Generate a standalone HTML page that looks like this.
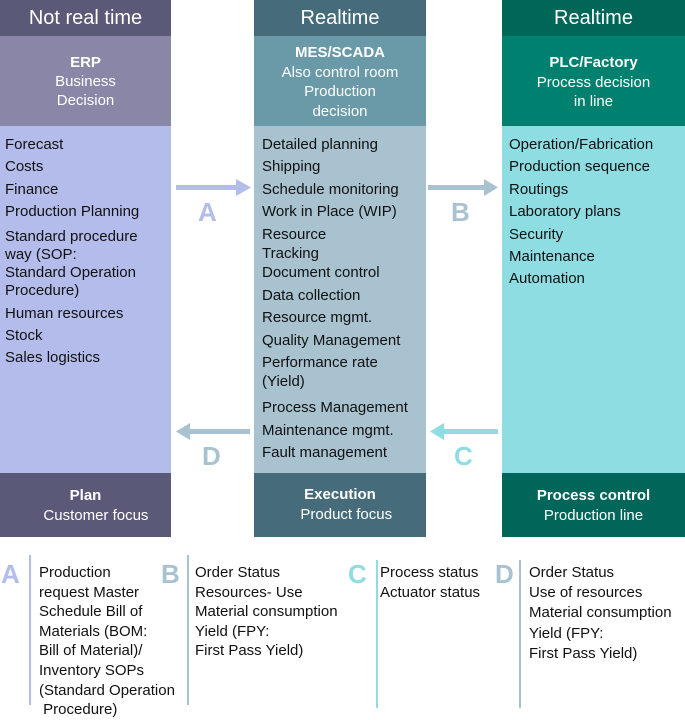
<!DOCTYPE html>
<html><head><meta charset="utf-8"><style>
*{margin:0;padding:0}
body{width:685px;height:713px;position:relative;background:#fff;font-family:"Liberation Sans",sans-serif;overflow:hidden}
.b{position:absolute}
.t{position:absolute;font-size:15px;color:#111;white-space:nowrap;line-height:18px}
.w{color:#fff;text-align:center;position:absolute;white-space:nowrap}
.L{position:absolute;font-size:26px;font-weight:bold;line-height:26px}
</style></head><body>
<!-- left column -->
<div class="b" style="left:0;top:0;width:171px;height:36px;background:#5a5a78"></div>
<div class="b" style="left:0;top:36px;width:171px;height:90px;background:#8a86a8"></div>
<div class="b" style="left:0;top:126px;width:171px;height:347px;background:#b4bcec"></div>
<div class="b" style="left:0;top:473px;width:171px;height:64px;background:#5a5a78"></div>
<!-- middle -->
<div class="b" style="left:254px;top:0;width:172px;height:36px;background:#466c7c"></div>
<div class="b" style="left:254px;top:36px;width:172px;height:90px;background:#6a9aa8"></div>
<div class="b" style="left:254px;top:126px;width:172px;height:347px;background:#a8c2d0"></div>
<div class="b" style="left:254px;top:473px;width:172px;height:64px;background:#466c7c"></div>
<!-- right -->
<div class="b" style="left:502px;top:0;width:183px;height:36px;background:#006658"></div>
<div class="b" style="left:502px;top:36px;width:183px;height:90px;background:#00806e"></div>
<div class="b" style="left:502px;top:126px;width:183px;height:347px;background:#8edde2"></div>
<div class="b" style="left:502px;top:473px;width:183px;height:64px;background:#00665a"></div>

<div class="w" style="left:0;width:171px;top:7px;font-size:20px">Not real time</div>
<div class="w" style="left:254px;width:172px;top:7px;font-size:20px">Realtime</div>
<div class="w" style="left:502px;width:183px;top:7px;font-size:20px">Realtime</div>

<div class="w" style="left:0;width:171px;top:53px;font-size:15px;line-height:19px"><b>ERP</b><br>Business<br>Decision</div>
<div class="w" style="left:254px;width:172px;top:43px;font-size:15px;line-height:19.5px"><b>MES/SCADA</b><br>Also control room<br>Production<br>decision</div>
<div class="w" style="left:502px;width:183px;top:53px;font-size:15px;line-height:19.5px"><b>PLC/Factory</b><br>Process decision<br>in line</div>

<div class="w" style="left:0;width:171px;top:486px;font-size:15px;line-height:20px"><b>Plan</b><br>&nbsp;&nbsp;&nbsp;&nbsp;&nbsp;Customer focus</div>
<div class="w" style="left:254px;width:172px;top:485px;font-size:15px;line-height:20px"><b>Execution</b><br>&nbsp;&nbsp;&nbsp;Product focus</div>
<div class="w" style="left:502px;width:183px;top:486px;font-size:15px;line-height:20px"><b>Process control</b><br>Production line</div>

<!-- left list -->
<div class="t" style="left:5px;top:136px">Forecast</div>
<div class="t" style="left:5px;top:158px">Costs</div>
<div class="t" style="left:5px;top:181px">Finance</div>
<div class="t" style="left:5px;top:203px">Production Planning</div>
<div class="t" style="left:5px;top:228px">Standard procedure</div>
<div class="t" style="left:5px;top:246px">way (SOP:</div>
<div class="t" style="left:5px;top:264px">Standard Operation</div>
<div class="t" style="left:5px;top:282px">Procedure)</div>
<div class="t" style="left:5px;top:305px">Human resources</div>
<div class="t" style="left:5px;top:327px">Stock</div>
<div class="t" style="left:5px;top:349px">Sales logistics</div>
<!-- middle list -->
<div class="t" style="left:262px;top:136px">Detailed planning</div>
<div class="t" style="left:262px;top:158px">Shipping</div>
<div class="t" style="left:262px;top:181px">Schedule monitoring</div>
<div class="t" style="left:262px;top:203px">Work in Place (WIP)</div>
<div class="t" style="left:262px;top:226px">Resource</div>
<div class="t" style="left:262px;top:245px">Tracking</div>
<div class="t" style="left:262px;top:264px">Document control</div>
<div class="t" style="left:262px;top:287px">Data collection</div>
<div class="t" style="left:262px;top:309px">Resource mgmt.</div>
<div class="t" style="left:262px;top:332px">Quality Management</div>
<div class="t" style="left:262px;top:354px">Performance rate</div>
<div class="t" style="left:262px;top:373px">(Yield)</div>
<div class="t" style="left:262px;top:399px">Process Management</div>
<div class="t" style="left:262px;top:422px">Maintenance mgmt.</div>
<div class="t" style="left:262px;top:444px">Fault management</div>
<!-- right list -->
<div class="t" style="left:509px;top:136px">Operation/Fabrication</div>
<div class="t" style="left:509px;top:158px">Production sequence</div>
<div class="t" style="left:509px;top:181px">Routings</div>
<div class="t" style="left:509px;top:203px">Laboratory plans</div>
<div class="t" style="left:509px;top:226px">Security</div>
<div class="t" style="left:509px;top:248px">Maintenance</div>
<div class="t" style="left:509px;top:270px">Automation</div>

<!-- arrows -->
<svg class="b" style="left:0;top:0" width="685" height="713">
<rect x="176" y="185" width="62" height="5" fill="#b4bcec"/><polygon points="236,179 251,187.5 236,196" fill="#b4bcec"/>
<rect x="428" y="185" width="58" height="5" fill="#a8c2d0"/><polygon points="484,179 498,187.5 484,196" fill="#a8c2d0"/>
<rect x="188" y="429" width="62" height="5" fill="#a8c2d0"/><polygon points="190,423 176,431.5 190,440" fill="#a8c2d0"/>
<rect x="442" y="429" width="56" height="5" fill="#8edde2"/><polygon points="444,423 430,431.5 444,440" fill="#8edde2"/>
<rect x="29" y="555" width="2" height="150" fill="#b4bcec"/>
<rect x="187" y="555" width="2" height="150" fill="#a8c2d0"/>
<rect x="376" y="560" width="2" height="148" fill="#8edde2"/>
<rect x="519" y="560" width="2" height="148" fill="#a8c2d0"/>
</svg>
<div class="L" style="left:198px;top:199px;color:#b4bcec">A</div>
<div class="L" style="left:451px;top:199px;color:#a8c2d0">B</div>
<div class="L" style="left:202px;top:443px;color:#a8c2d0">D</div>
<div class="L" style="left:454px;top:443px;color:#8edde2">C</div>

<div class="L" style="left:1px;top:561px;color:#b4bcec">A</div>
<div class="L" style="left:161px;top:561px;color:#a8c2d0">B</div>
<div class="L" style="left:348px;top:561px;color:#8edde2">C</div>
<div class="L" style="left:495px;top:561px;color:#a8c2d0">D</div>

<div class="t" style="left:39px;top:563px;line-height:19.6px">Production<br>request Master<br>Schedule Bill of<br>Materials (BOM:<br>Bill of Material)/<br>Inventory SOPs<br>(Standard Operation<br>&nbsp;Procedure)</div>
<div class="t" style="left:195px;top:563px;line-height:19.6px">Order Status<br>Resources- Use<br>Material consumption<br>Yield (FPY:<br>First Pass Yield)</div>
<div class="t" style="left:380px;top:563px;line-height:19.6px">Process status<br>Actuator status</div>
<div class="t" style="left:529px;top:563px;line-height:20.2px">Order Status<br>Use of resources<br>Material consumption<br>Yield (FPY:<br>First Pass Yield)</div>
</body></html>
